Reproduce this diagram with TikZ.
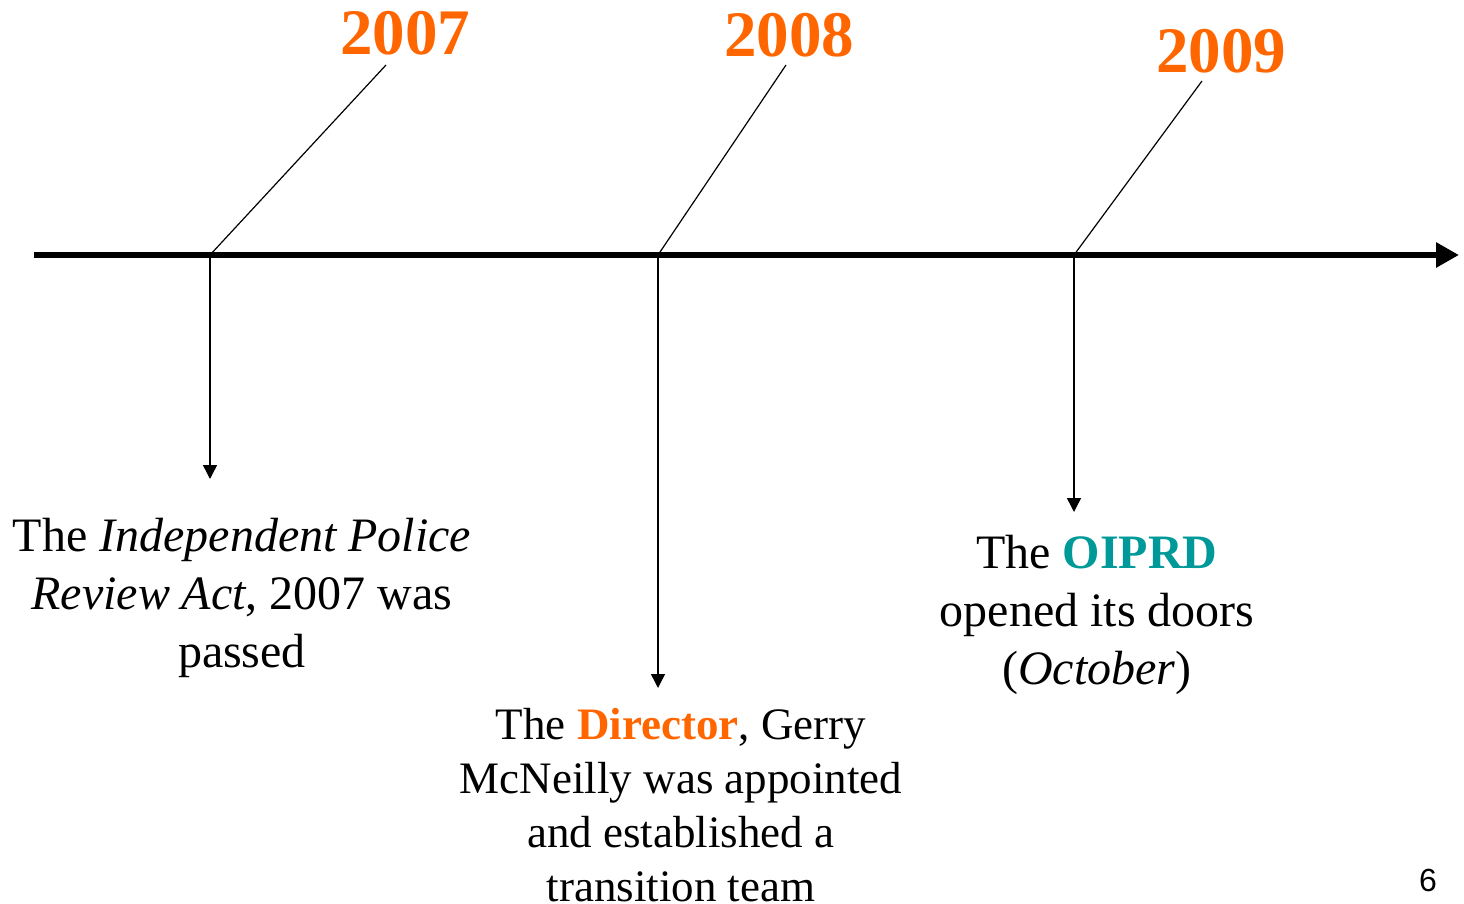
\documentclass[tikz,border=0pt]{standalone}
\usepackage{fontspec}
\setmainfont{Liberation Serif}
\newfontfamily\pgnumfont{Liberation Sans}
\usetikzlibrary{arrows.meta}
\definecolor{yearorange}{HTML}{FF6600}
\definecolor{oiprdteal}{HTML}{009999}
\tikzset{
  axis/.style={line width=3pt,-{Triangle[length=11.5pt,width=12pt]}},
  drop/.style={line width=0.75pt,-{Triangle[length=7pt,width=7pt]}},
  stalk/.style={line width=0.6pt},
  year/.style={font=\fontsize{32.5}{38}\selectfont\bfseries, text=yearorange, inner sep=0pt},
  eventtext/.style={align=center, font=\fontsize{24}{29}\selectfont, inner sep=0pt},
}
\begin{document}
\begin{tikzpicture}[x=0.5pt,y=-0.5pt]
\useasboundingbox (0,0) rectangle (1464,904);
% axis
\coordinate (start) at (34,255);
\coordinate (end) at (1459,255);
\draw[axis] (start) -- (end);
% tick points
\coordinate (t1) at (210,255);
\coordinate (t2) at (658,255);
\coordinate (t3) at (1074,255);
% year labels
\node[year] (y1) at (405,33) {2007};
\node[year] (y2) at (789,35) {2008};
\node[year] (y3) at (1221,51) {2009};
\coordinate (d1) at (386,65);
\coordinate (d2) at (786,65);
\coordinate (d3) at (1202,81);
\draw[stalk] (t1) -- (d1);
\draw[stalk] (t2) -- (d2);
\draw[stalk] (t3) -- (d3);
% drop arrows
\coordinate (a1) at (210,479);
\coordinate (a2) at (658,688);
\coordinate (a3) at (1074,512);
\draw[drop] (t1) -- (a1);
\draw[drop] (t2) -- (a2);
\draw[drop] (t3) -- (a3);
% event texts
\node[eventtext] (e1) at (242,598) {The \textit{Independent Police}\\ \textit{Review Act}, 2007 was\\ passed};
\node[eventtext, font=\fontsize{22.5}{27}\selectfont] (e2) at (681,805) {The \textcolor{yearorange}{\textbf{Director}}, Gerry\\ McNeilly was appointed\\ and established a\\ transition team};
\node[eventtext] (e3) at (1097,615) {The \textcolor{oiprdteal}{\textbf{OIPRD}}\\ opened its doors\\ (\textit{October})};
% page number
\node[font=\pgnumfont\fontsize{16}{19}\selectfont, inner sep=0pt] (pg) at (1428,880) {6};
\end{tikzpicture}
\end{document}
